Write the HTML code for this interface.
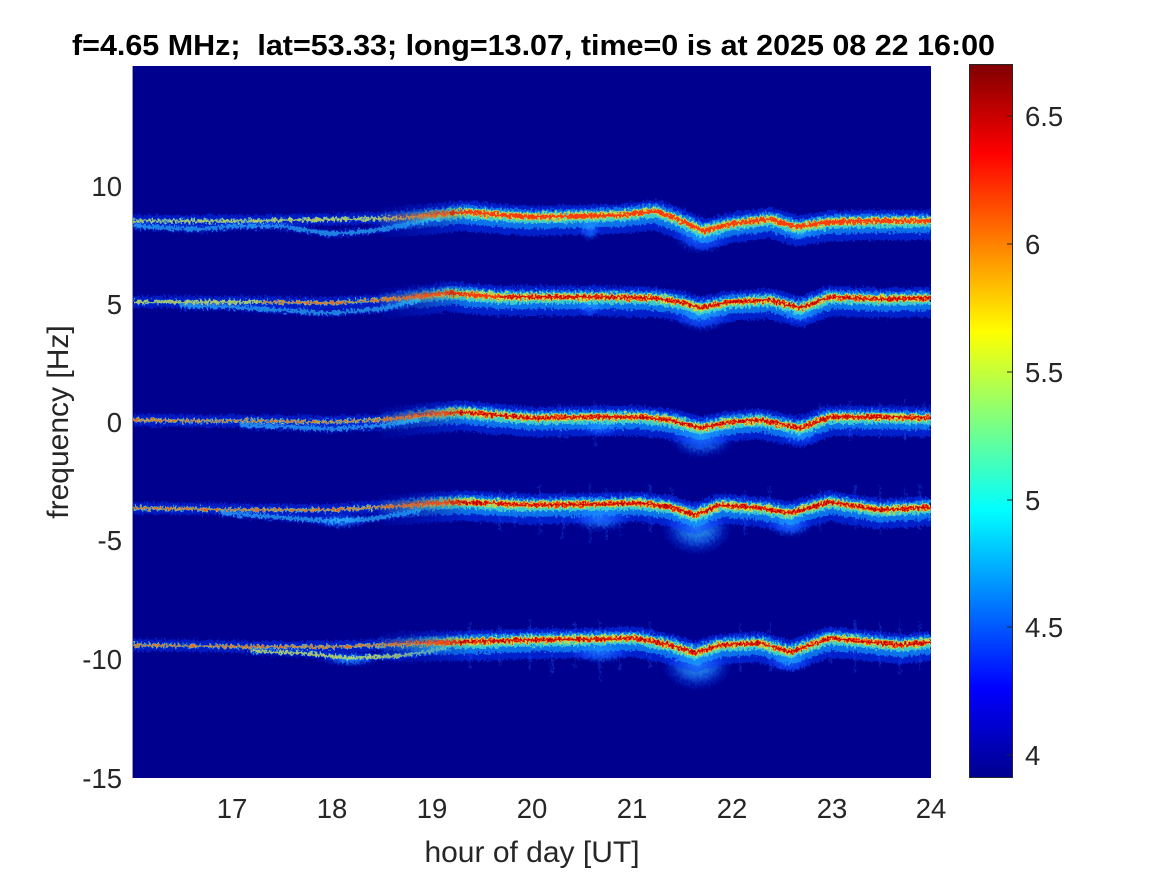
<!DOCTYPE html>
<html><head><meta charset="utf-8"><style>
html,body{margin:0;padding:0;background:#fff;}
svg{display:block;}
text{font-family:"Liberation Sans",Arial,sans-serif;fill:#262626;}
</style></head><body>
<svg width="1167" height="875" viewBox="0 0 1167 875" xmlns="http://www.w3.org/2000/svg">
<defs>
<linearGradient id="jet" x1="0" y1="0" x2="0" y2="1">
<stop offset="0" stop-color="#800000"/>
<stop offset="0.125" stop-color="#ff0000"/>
<stop offset="0.375" stop-color="#ffff00"/>
<stop offset="0.625" stop-color="#00ffff"/>
<stop offset="0.875" stop-color="#0000ff"/>
<stop offset="1" stop-color="#00008f"/>
</linearGradient>
<radialGradient id="dip">
<stop offset="0" stop-color="#48d8ff" stop-opacity="0.85"/>
<stop offset="0.5" stop-color="#1878ff" stop-opacity="0.65"/>
<stop offset="1" stop-color="#0020e0" stop-opacity="0"/>
</radialGradient>
<linearGradient id="fadeR" gradientUnits="userSpaceOnUse" x1="370" y1="0" x2="470" y2="0">
<stop offset="0" stop-color="#000"/>
<stop offset="1" stop-color="#fff"/>
</linearGradient>
<mask id="mR" maskUnits="userSpaceOnUse" x="0" y="0" width="1167" height="875">
<rect x="0" y="0" width="1167" height="875" fill="url(#fadeR)"/>
</mask>
<clipPath id="plot"><rect x="133" y="66" width="798" height="712"/></clipPath>
<filter id="rough" filterUnits="userSpaceOnUse" x="120" y="50" width="830" height="740">
<feTurbulence type="fractalNoise" baseFrequency="0.45 0.3" numOctaves="2" seed="3" result="n"/>
<feDisplacementMap in="SourceGraphic" in2="n" scale="8" xChannelSelector="R" yChannelSelector="G"/>
</filter>
</defs>

<rect x="133" y="66" width="798" height="712" fill="#00008e"/>

<g clip-path="url(#plot)">
<g filter="url(#rough)">
<!-- dip blobs -->
<g>
<ellipse cx="702" cy="236" rx="30" ry="18" fill="url(#dip)"/>
<ellipse cx="800" cy="231" rx="20" ry="10" fill="url(#dip)"/>
<ellipse cx="590" cy="228" rx="12" ry="14" fill="url(#dip)"/>
<ellipse cx="702" cy="314" rx="32" ry="18" fill="url(#dip)"/>
<ellipse cx="800" cy="314" rx="22" ry="10" fill="url(#dip)"/>
<ellipse cx="590" cy="307" rx="14" ry="10" fill="url(#dip)"/>
<ellipse cx="702" cy="437" rx="34" ry="22" fill="url(#dip)"/>
<ellipse cx="800" cy="434" rx="22" ry="12" fill="url(#dip)"/>
<ellipse cx="600" cy="427" rx="22" ry="10" fill="url(#dip)"/>
<ellipse cx="697" cy="528" rx="36" ry="28" fill="url(#dip)"/>
<ellipse cx="790" cy="524" rx="24" ry="14" fill="url(#dip)"/>
<ellipse cx="600" cy="518" rx="32" ry="14" fill="url(#dip)"/>
<ellipse cx="340" cy="521" rx="30" ry="8" fill="url(#dip)"/>
<ellipse cx="697" cy="665" rx="36" ry="26" fill="url(#dip)"/>
<ellipse cx="790" cy="661" rx="24" ry="12" fill="url(#dip)"/>
<ellipse cx="600" cy="652" rx="32" ry="12" fill="url(#dip)"/>
<ellipse cx="350" cy="659" rx="30" ry="8" fill="url(#dip)"/>
</g>
<!-- vertical streaks -->
<g stroke="#2060ff" stroke-opacity="0.35" stroke-width="1.5">
<path d="M500,488V532 M515,490V528 M540,486V534 M563,490V540 M590,484V545 M606,488V540 M620,490V536 M650,486V532 M672,488V530 M745,490V534 M770,486V532 M820,490V530 M855,484V530 M880,486V535 M905,488V528 M920,484V532"/>
<path d="M470,622V668 M500,625V666 M530,620V670 M552,624V675 M575,622V668 M600,620V680 M620,624V672 M650,622V668 M740,624V670 M770,620V672 M830,626V664 M855,620V672 M880,622V668 M900,618V674 M920,622V670"/>
<path d="M820,404V436 M850,400V440 M880,402V438 M905,398V440 M925,402V436 M560,404V440 M595,402V446"/>
</g>

<!-- LEFT thin segments -->
<g fill="none" stroke-linejoin="round">
<g stroke="#0a3cff" stroke-opacity="0.45" stroke-width="12">
<path d="M133,221 L200,221 L260,221 L300,220 L350,219 L400,218 L450,214"/>
<path d="M133,302 L200,302 L260,302 L330,303 L380,300 L450,294"/>
<path d="M133,420 L200,421 L260,421 L330,422 L380,420 L450,413"/>
<path d="M133,508 L200,509 L260,510 L330,510 L380,507 L450,503"/>
<path d="M133,645 L200,646 L260,647 L330,647 L380,645 L450,643"/>
</g>
<g stroke="#0a3cff" stroke-opacity="0.35" stroke-width="8">
<path d="M133,226 L170,228 L200,229 L240,226 L280,226 L330,234 L370,231 L400,226 L440,218"/>
<path d="M180,306 L230,307 L280,310 L330,313 L380,309 L420,300"/>
<path d="M240,425 L290,427 L330,429 L380,426 L420,420"/>
<path d="M220,513 L260,516 L330,521 L370,519 L420,511"/>
<path d="M250,651 L300,653 L350,658 L400,656 L450,648"/>
</g>
<g stroke="#30c8ff" stroke-opacity="0.6" stroke-width="4">
<path d="M133,221 L200,221 L260,221 L300,220 L350,219 L400,218 L450,214"/>
<path d="M133,226 L170,228 L200,229 L240,226 L280,226 L330,234 L370,231 L400,226 L440,218"/>
<path d="M133,302 L200,302 L260,302 L330,303 L380,300 L450,294"/>
<path d="M180,306 L230,307 L280,310 L330,313 L380,309 L420,300"/>
<path d="M133,420 L200,421 L260,421 L330,422 L380,420 L450,413"/>
<path d="M240,425 L290,427 L330,429 L380,426 L420,420"/>
<path d="M133,508 L200,509 L260,510 L330,510 L380,507 L450,503"/>
<path d="M220,513 L260,516 L330,521 L370,519 L420,511"/>
<path d="M133,645 L200,646 L260,647 L330,647 L380,645 L450,643"/>
<path d="M250,651 L300,653 L350,658 L400,656 L450,648"/>
</g>
<g stroke="#f0e030" stroke-opacity="0.7" stroke-width="2.5">
<path d="M133,221 L200,221 L260,221 L300,220 L350,219 L400,218 L450,214"/>
<path d="M133,302 L200,302 L260,302 L330,303 L380,300 L450,294"/>
<path d="M133,420 L200,421 L260,421 L330,422 L380,420 L450,413"/>
<path d="M133,508 L200,509 L260,510 L330,510 L380,507 L450,503"/>
<path d="M133,645 L200,646 L260,647 L330,647 L380,645 L450,643"/>
<path d="M250,651 L300,653 L350,658 L400,656 L450,648"/>
</g>
<g stroke="#ff3000" stroke-opacity="0.7" stroke-width="1.2">
<path d="M260,302 L330,303 L380,300 L450,294"/>
<path d="M133,420 L200,421 L260,421 L330,422 L380,420 L450,413"/>
<path d="M133,508 L200,509 L260,510 L330,510 L380,507 L450,503"/>
<path d="M133,645 L200,646 L260,647 L330,647 L380,645 L450,643"/>
</g>
</g>

<!-- RIGHT thick segments -->
<g fill="none" stroke-linejoin="round" mask="url(#mR)">
<g stroke="#0a3cff" stroke-opacity="0.55" stroke-width="30" transform="translate(0,4)">
<path d="M380,219 L420,216 L465,212 L500,215 L530,217 L580,216 L620,215 L655,211 L680,220 L703,231 L730,224 L770,219 L797,227 L830,222 L870,221 L931,221"/>
<path d="M380,300 L420,296 L450,293 L500,297 L530,297 L600,297 L653,298 L680,302 L700,308 L730,302 L770,300 L800,308 L830,297 L880,299 L931,298"/>
<path d="M380,420 L420,415 L460,412 L530,418 L600,417 L640,417 L670,420 L700,428 L730,422 L760,420 L800,428 L830,417 L880,417 L931,418"/>
<path d="M380,507 L420,504 L460,502 L530,505 L600,504 L640,503 L670,507 L695,515 L720,505 L760,508 L790,513 L830,502 L880,510 L931,507"/>
<path d="M380,644 L420,643 L460,642 L530,640 L600,639 L635,638 L670,645 L695,653 L720,645 L760,643 L790,652 L830,638 L870,642 L900,645 L931,642"/>
</g>
<g stroke="#18a8ff" stroke-opacity="0.6" stroke-width="19" transform="translate(0,2.5)">
<path d="M380,219 L420,216 L465,212 L500,215 L530,217 L580,216 L620,215 L655,211 L680,220 L703,231 L730,224 L770,219 L797,227 L830,222 L870,221 L931,221"/>
<path d="M380,300 L420,296 L450,293 L500,297 L530,297 L600,297 L653,298 L680,302 L700,308 L730,302 L770,300 L800,308 L830,297 L880,299 L931,298"/>
<path d="M380,420 L420,415 L460,412 L530,418 L600,417 L640,417 L670,420 L700,428 L730,422 L760,420 L800,428 L830,417 L880,417 L931,418"/>
<path d="M380,507 L420,504 L460,502 L530,505 L600,504 L640,503 L670,507 L695,515 L720,505 L760,508 L790,513 L830,502 L880,510 L931,507"/>
<path d="M380,644 L420,643 L460,642 L530,640 L600,639 L635,638 L670,645 L695,653 L720,645 L760,643 L790,652 L830,638 L870,642 L900,645 L931,642"/>
</g>
<g stroke="#50f0c0" stroke-opacity="0.7" stroke-width="11" transform="translate(0,1)">
<path d="M380,219 L420,216 L465,212 L500,215 L530,217 L580,216 L620,215 L655,211 L680,220 L703,231 L730,224 L770,219 L797,227 L830,222 L870,221 L931,221"/>
<path d="M380,300 L420,296 L450,293 L500,297 L530,297 L600,297 L653,298 L680,302 L700,308 L730,302 L770,300 L800,308 L830,297 L880,299 L931,298"/>
<path d="M380,420 L420,415 L460,412 L530,418 L600,417 L640,417 L670,420 L700,428 L730,422 L760,420 L800,428 L830,417 L880,417 L931,418"/>
<path d="M380,507 L420,504 L460,502 L530,505 L600,504 L640,503 L670,507 L695,515 L720,505 L760,508 L790,513 L830,502 L880,510 L931,507"/>
<path d="M380,644 L420,643 L460,642 L530,640 L600,639 L635,638 L670,645 L695,653 L720,645 L760,643 L790,652 L830,638 L870,642 L900,645 L931,642"/>
</g>
<g stroke="#f0e020" stroke-opacity="0.75" stroke-width="7">
<path d="M380,219 L420,216 L465,212 L500,215 L530,217 L580,216 L620,215 L655,211 L680,220 L703,231 L730,224 L770,219 L797,227 L830,222 L870,221 L931,221"/>
<path d="M380,300 L420,296 L450,293 L500,297 L530,297 L600,297 L653,298 L680,302 L700,308 L730,302 L770,300 L800,308 L830,297 L880,299 L931,298"/>
<path d="M380,420 L420,415 L460,412 L530,418 L600,417 L640,417 L670,420 L700,428 L730,422 L760,420 L800,428 L830,417 L880,417 L931,418"/>
<path d="M380,507 L420,504 L460,502 L530,505 L600,504 L640,503 L670,507 L695,515 L720,505 L760,508 L790,513 L830,502 L880,510 L931,507"/>
<path d="M380,644 L420,643 L460,642 L530,640 L600,639 L635,638 L670,645 L695,653 L720,645 L760,643 L790,652 L830,638 L870,642 L900,645 L931,642"/>
</g>
<g stroke="#ff2a00" stroke-opacity="0.9" stroke-width="4">
<path d="M380,219 L420,216 L465,212 L500,215 L530,217 L580,216 L620,215 L655,211 L680,220 L703,231 L730,224 L770,219 L797,227 L830,222 L870,221 L931,221"/>
<path d="M380,300 L420,296 L450,293 L500,297 L530,297 L600,297 L653,298 L680,302 L700,308 L730,302 L770,300 L800,308 L830,297 L880,299 L931,298"/>
<path d="M380,420 L420,415 L460,412 L530,418 L600,417 L640,417 L670,420 L700,428 L730,422 L760,420 L800,428 L830,417 L880,417 L931,418"/>
<path d="M380,507 L420,504 L460,502 L530,505 L600,504 L640,503 L670,507 L695,515 L720,505 L760,508 L790,513 L830,502 L880,510 L931,507"/>
<path d="M380,644 L420,643 L460,642 L530,640 L600,639 L635,638 L670,645 L695,653 L720,645 L760,643 L790,652 L830,638 L870,642 L900,645 L931,642"/>
</g>
<g stroke="#b00000" stroke-opacity="0.9" stroke-width="1.6">
<path d="M500,297 L530,297 L600,297 L653,298 L680,302 L700,308 L730,302 L770,300 L800,308 L830,297 L880,299 L931,298"/>
<path d="M460,412 L530,418 L600,417 L640,417 L670,420 L700,428 L730,422 L760,420 L800,428 L830,417 L880,417 L931,418"/>
<path d="M460,502 L530,505 L600,504 L640,503 L670,507 L695,515 L720,505 L760,508 L790,513 L830,502 L880,510 L931,507"/>
<path d="M460,642 L530,640 L600,639 L635,638 L670,645 L695,653 L720,645 L760,643 L790,652 L830,638 L870,642 L900,645 L931,642"/>
</g>
</g>
</g>
</g>

<line x1="132.5" y1="66" x2="132.5" y2="778" stroke="#9a9a9a" stroke-width="1"/>

<rect x="969.5" y="64.5" width="43" height="713" fill="url(#jet)" stroke="#262626" stroke-width="1"/>
<g stroke="#262626" stroke-width="1">
<line x1="1007" y1="116" x2="1013" y2="116"/>
<line x1="1007" y1="244" x2="1013" y2="244"/>
<line x1="1007" y1="372" x2="1013" y2="372"/>
<line x1="1007" y1="500" x2="1013" y2="500"/>
<line x1="1007" y1="627" x2="1013" y2="627"/>
<line x1="1007" y1="755" x2="1013" y2="755"/>
</g>
<g font-size="27.5">
<text x="1025" y="126">6.5</text>
<text x="1025" y="254">6</text>
<text x="1025" y="382">5.5</text>
<text x="1025" y="510">5</text>
<text x="1025" y="637">4.5</text>
<text x="1025" y="765">4</text>
</g>

<g font-size="27.5" text-anchor="end">
<text x="122" y="196">10</text>
<text x="122" y="314">5</text>
<text x="122" y="432">0</text>
<text x="122" y="550">-5</text>
<text x="122" y="669">-10</text>
<text x="122" y="788">-15</text>
</g>
<g font-size="27.5" text-anchor="middle">
<text x="232" y="818">17</text>
<text x="332" y="818">18</text>
<text x="432" y="818">19</text>
<text x="532" y="818">20</text>
<text x="632" y="818">21</text>
<text x="732" y="818">22</text>
<text x="832" y="818">23</text>
<text x="931" y="818">24</text>
</g>
<text x="532" y="862" font-size="30" text-anchor="middle">hour of day [UT]</text>
<text transform="translate(68,422) rotate(-90)" font-size="30" text-anchor="middle">frequency [Hz]</text>
<text x="72" y="55" font-size="29" font-weight="bold" style="fill:#000;white-space:pre" textLength="923" lengthAdjust="spacingAndGlyphs" xml:space="preserve">f=4.65 MHz;  lat=53.33; long=13.07, time=0 is at 2025 08 22 16:00</text>
</svg>
</body></html>
